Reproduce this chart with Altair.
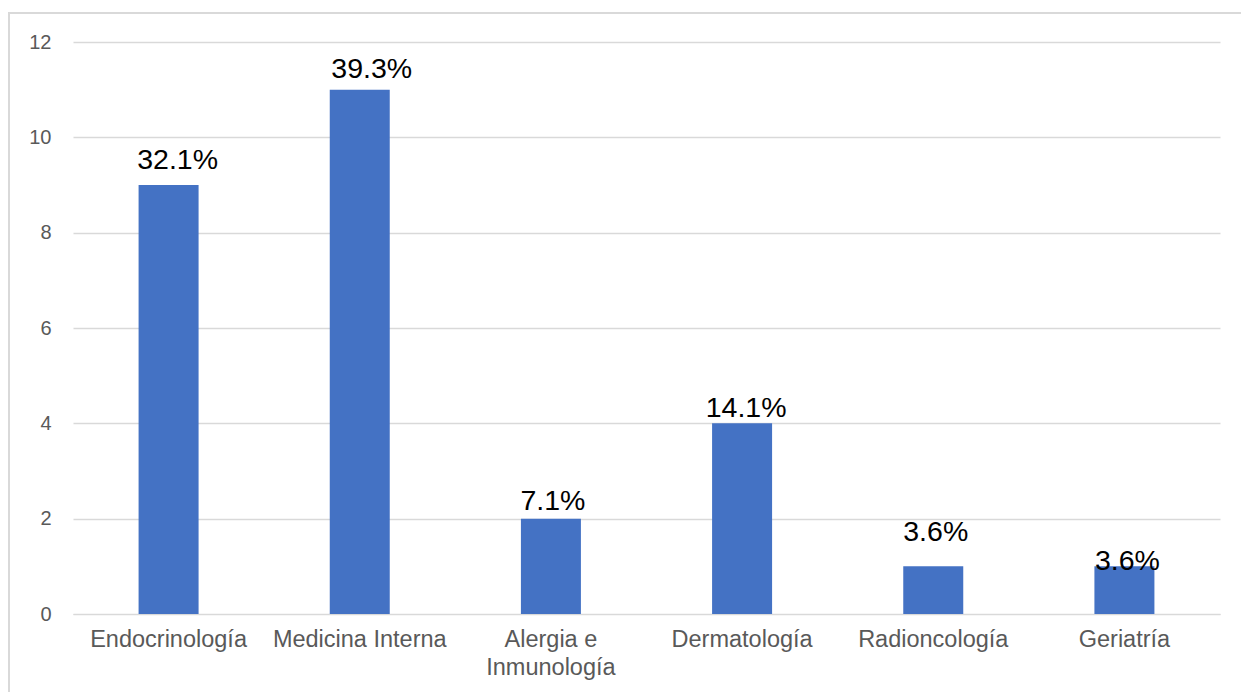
import altair as alt
import pandas as pd

categories = ["Endocrinología", "Medicina Interna", "Alergia e Inmunología",
              "Dermatología", "Radioncología", "Geriatría"]
counts = [9, 11, 2, 4, 1, 1]
labels = ["32.1%", "39.3%", "7.1%", "14.1%", "3.6%", "3.6%"]
label_at = [9.33, 11.24, 2.18, 4.14, 1.53, 0.92]
label_shift = [9, 12, 2, 4, 2.5, 3]

df = pd.DataFrame({"cat": categories, "n": counts, "lab": labels,
                   "ly": label_at, "dx": label_shift})

x = alt.X("cat:N", sort=categories, title=None,
          scale=alt.Scale(paddingInner=0, paddingOuter=0),
          axis=alt.Axis(labelAngle=0, ticks=False, domain=True, domainColor="#d9d9d9",
                        domainWidth=1, grid=False, labelFont="Liberation Sans",
                        labelFontSize=23.5, labelColor="#595959", labelPadding=13,
                        labelLineHeight=28, labelLimit=300,
                        labelExpr="datum.label == 'Alergia e Inmunología' ? ['Alergia e', 'Inmunología'] : datum.label"))

y_scale = alt.Scale(domain=[0, 12], nice=False)

border = alt.Chart(df).mark_rect(fill=None, stroke="#d9d9d9", strokeWidth=1.5).encode(
    x=alt.value(-64), x2=alt.value(1250), y=alt.value(-29), y2=alt.value(720))

bars = alt.Chart(df).mark_bar(size=60, color="#4472C4").encode(
    x=x,
    y=alt.Y("n:Q", title=None, scale=y_scale,
            axis=alt.Axis(values=[0, 2, 4, 6, 8, 10, 12], ticks=False, domain=False,
                          grid=True, gridColor="#d9d9d9", gridWidth=1.5,
                          labelFont="Liberation Sans", labelFontSize=20,
                          labelColor="#595959", labelPadding=22)))

text = alt.Chart(df).mark_text(font="Liberation Sans", fontSize=28.5, color="#000000",
                               baseline="alphabetic", align="center",
                               dx=alt.ExprRef("datum.dx")).encode(
    x=alt.X("cat:N", sort=categories),
    y=alt.Y("ly:Q", scale=y_scale),
    text="lab:N")

chart = alt.layer(border, bars, text).properties(
    width=1147, height=572, autosize="none", background="white",
    padding={"left": 73, "top": 42, "right": 21, "bottom": 78},
).configure_view(stroke=None)

chart.save("out.html", embed_options={"renderer": "svg", "actions": False})
